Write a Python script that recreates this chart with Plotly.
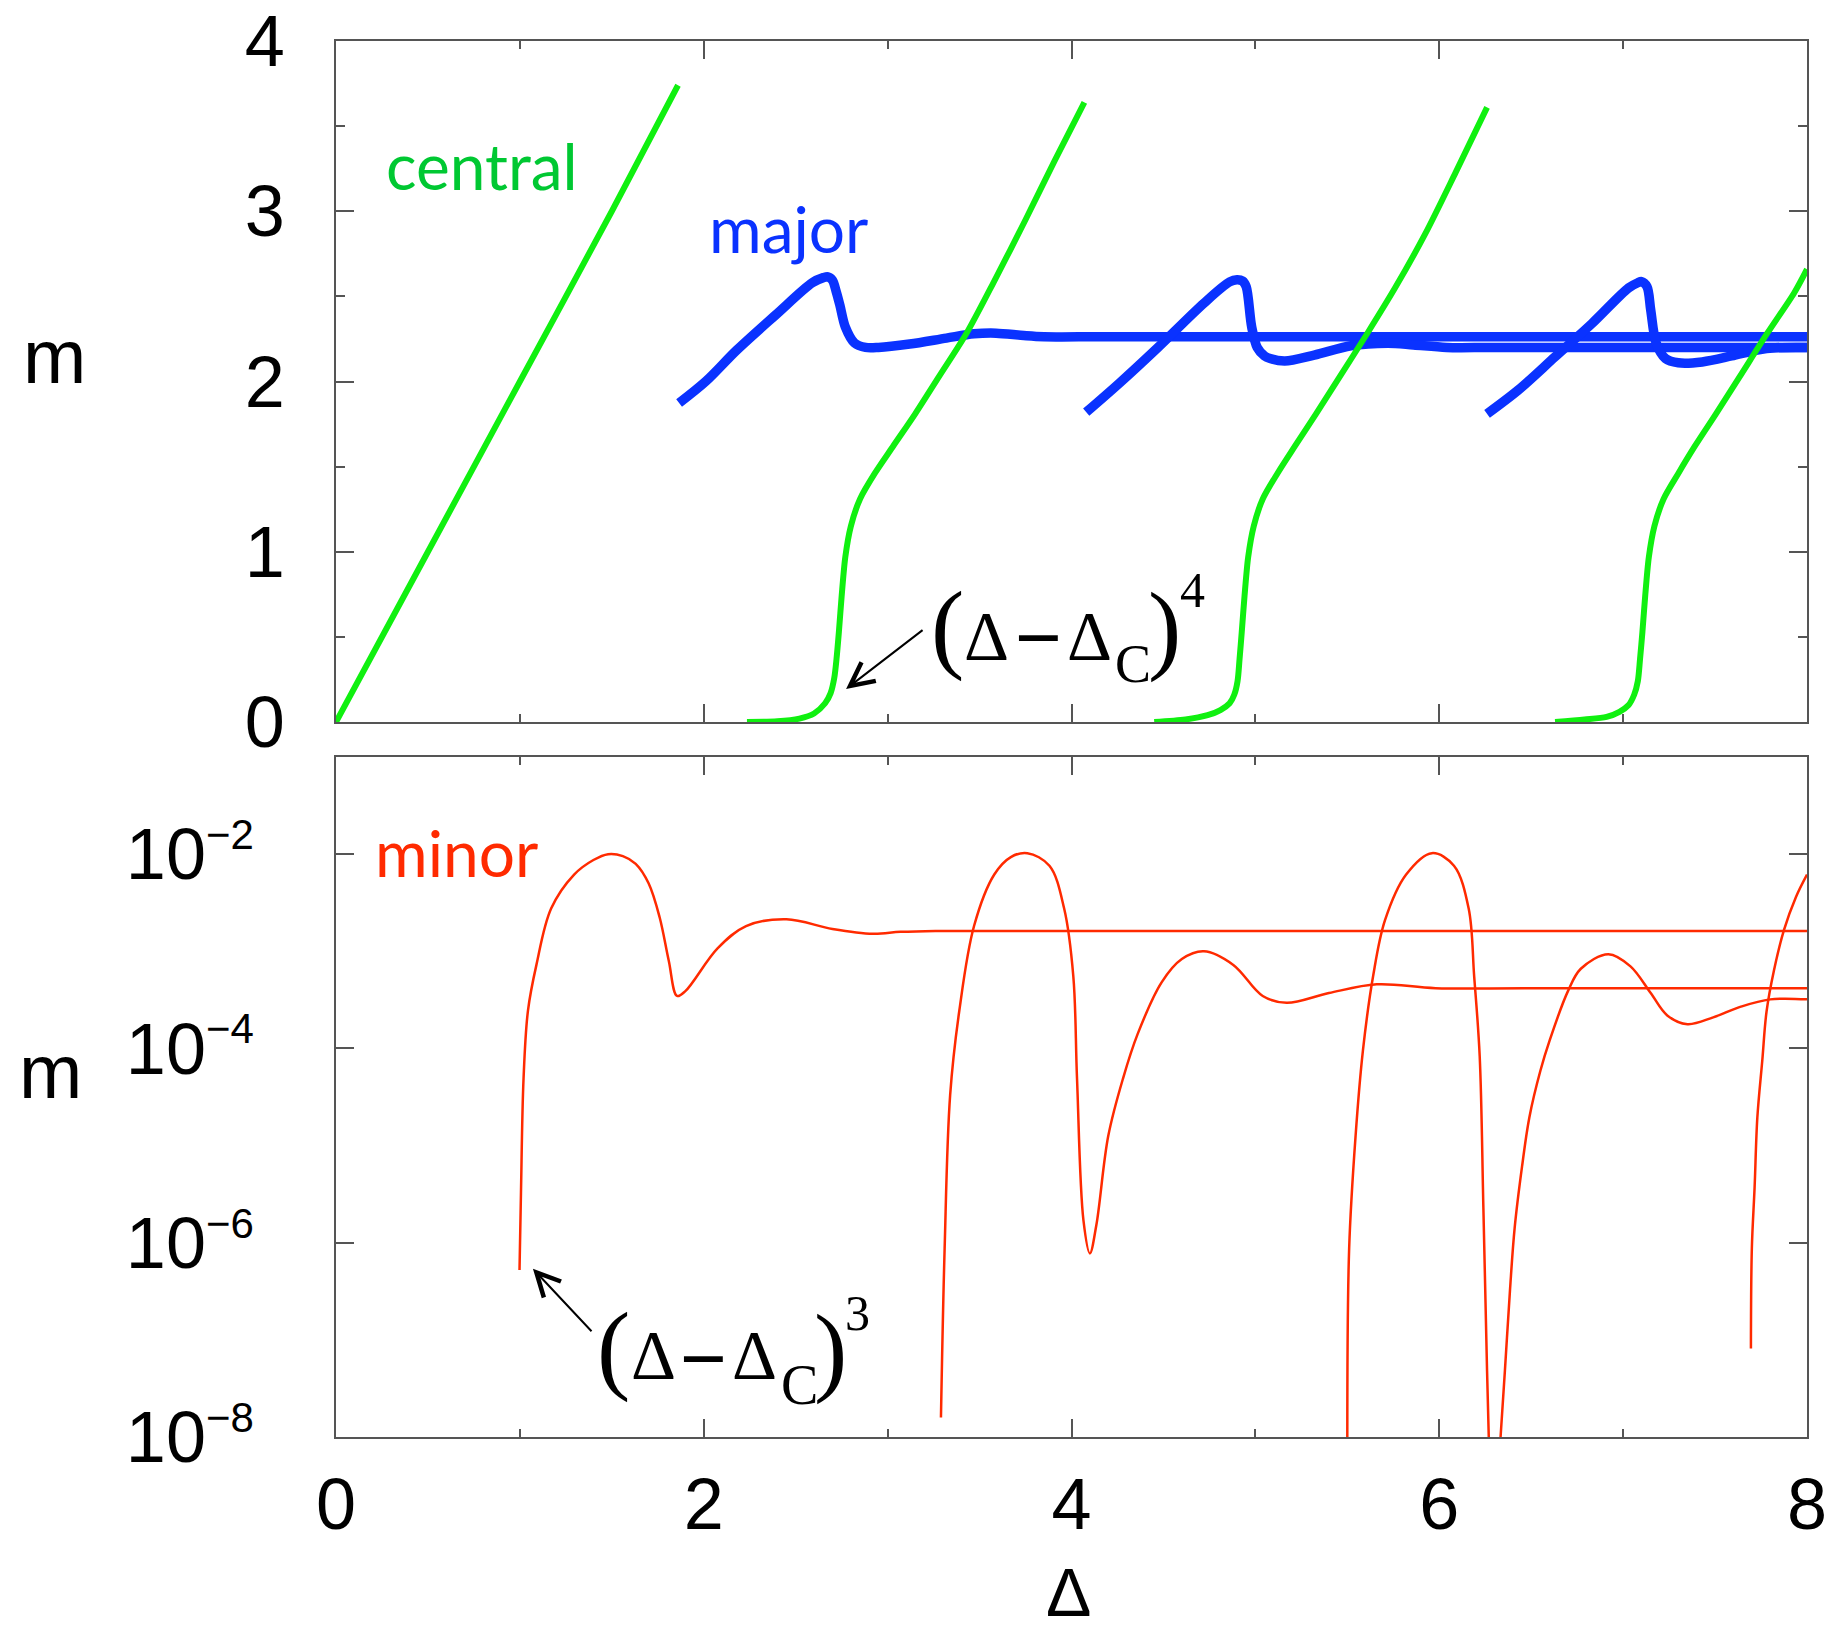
import plotly.graph_objects as go

# ---------------- data ----------------
# top panel: "central" magnetisation (green)
central_1_delta = [0.0, 0.5, 1.0, 1.5, 1.86]
central_1_m = [0.0, 1.0, 2.0, 3.0, 3.74]

central_2_delta = [2.235, 2.40, 2.52, 2.60, 2.66, 2.69, 2.71, 2.722, 2.735, 2.75, 2.77, 2.80,
                   2.85, 2.93, 3.03, 3.15, 3.28, 3.43, 3.58, 3.75, 3.91, 4.07]
central_2_m = [0.0, 0.004, 0.02, 0.05, 0.11, 0.17, 0.26, 0.37, 0.53, 0.74, 0.97, 1.15,
               1.31, 1.46, 1.62, 1.81, 2.03, 2.285, 2.59, 2.95, 3.30, 3.64]

central_3_delta = [4.45, 4.62, 4.74, 4.81, 4.86, 4.885, 4.903, 4.914, 4.926, 4.941, 4.961, 4.991,
                   5.04, 5.12, 5.215, 5.33, 5.46, 5.61, 5.76, 5.925, 6.09, 6.26]
central_3_m = [0.0, 0.015, 0.04, 0.07, 0.11, 0.16, 0.24, 0.37, 0.53, 0.74, 0.97, 1.15,
               1.31, 1.46, 1.62, 1.81, 2.03, 2.285, 2.55, 2.87, 3.23, 3.61]

central_4_delta = [6.63, 6.79, 6.91, 6.98, 7.03, 7.06, 7.08, 7.092, 7.105, 7.12, 7.14, 7.17,
                   7.22, 7.30, 7.39, 7.505, 7.635, 7.785, 7.93, 8.0]
central_4_m = [0.0, 0.015, 0.03, 0.06, 0.10, 0.16, 0.24, 0.37, 0.53, 0.74, 0.97, 1.15,
               1.31, 1.46, 1.62, 1.81, 2.03, 2.285, 2.52, 2.66]

# top panel: "major" magnetisation (blue)
major_1_delta = [1.866, 2.01, 2.18, 2.39, 2.59, 2.65, 2.675, 2.70, 2.72, 2.74, 2.77, 2.82, 2.88,
                 2.95, 3.12, 3.32, 3.47, 3.59, 3.74, 3.85, 4.2, 8.0]
major_1_m = [1.874, 2.0, 2.185, 2.39, 2.58, 2.61, 2.615, 2.595, 2.53, 2.45, 2.32, 2.226, 2.20,
             2.20, 2.22, 2.255, 2.28, 2.284, 2.27, 2.263, 2.263, 2.263]

major_2_delta = [4.08, 4.26, 4.47, 4.72, 4.86, 4.90, 4.93, 4.95, 4.98, 5.01, 5.05, 5.08, 5.16,
                 5.32, 5.52, 5.72, 5.86, 6.04, 6.3, 8.0]
major_2_m = [1.82, 1.99, 2.20, 2.46, 2.585, 2.597, 2.59, 2.557, 2.32, 2.20, 2.15, 2.135, 2.12,
             2.155, 2.21, 2.225, 2.215, 2.20, 2.20, 2.20]

major_3_delta = [6.26, 6.43, 6.63, 6.83, 7.03, 7.08, 7.10, 7.13, 7.15, 7.18, 7.23, 7.30, 7.43,
                 7.59, 7.73, 7.83, 8.0]
major_3_m = [1.81, 1.95, 2.145, 2.34, 2.55, 2.58, 2.587, 2.557, 2.42, 2.225, 2.135, 2.11, 2.115,
             2.15, 2.185, 2.198, 2.20]

# bottom panel: "minor" magnetisation (red), given as log10(m)
minor_1_delta = [0.998, 1.006, 1.02, 1.044, 1.09, 1.17, 1.295, 1.40, 1.48, 1.56, 1.63, 1.70,
                 1.76, 1.81, 1.855, 1.90, 2.075, 2.23, 2.45, 2.70, 2.92, 3.07, 3.26, 8.0]
minor_1_log10m = [-6.28, -5.48, -4.31, -3.61, -3.14, -2.56, -2.21, -2.06, -2.00, -2.02, -2.10,
                  -2.30, -2.65, -3.10, -3.46, -3.41, -2.97, -2.74, -2.67, -2.77, -2.82, -2.80,
                  -2.79, -2.79]

minor_2_delta = [3.29, 3.31, 3.34, 3.39, 3.47, 3.58, 3.67, 3.76, 3.88, 3.96, 4.01, 4.03, 4.065,
                 4.10, 4.135, 4.20, 4.28, 4.36, 4.49, 4.60, 4.72, 4.88, 5.04, 5.17, 5.40, 5.66,
                 5.98, 6.47, 8.0]
minor_2_log10m = [-7.8, -6.06, -4.48, -3.61, -2.74, -2.21, -2.03, -1.99, -2.12, -2.56, -3.26,
                  -4.31, -5.77, -6.11, -5.82, -4.90, -4.31, -3.85, -3.32, -3.08, -3.0, -3.14,
                  -3.46, -3.53, -3.43, -3.34, -3.38, -3.381, -3.381]

minor_3_delta = [5.50, 5.51, 5.545, 5.585, 5.64, 5.705, 5.82, 5.96, 6.08, 6.16, 6.19, 6.22,
                 6.24, 6.26, 6.27]
minor_3_log10m = [-8.05, -6.06, -4.90, -4.02, -3.26, -2.68, -2.21, -1.99, -2.12, -2.56, -3.26,
                  -4.08, -5.64, -7.32, -8.05]

minor_4_delta = [6.33, 6.357, 6.385, 6.41, 6.45, 6.49, 6.55, 6.60, 6.70, 6.77, 6.92, 7.04, 7.15,
                 7.24, 7.35, 7.49, 7.64, 7.80, 8.0]
minor_4_log10m = [-8.1, -7.32, -6.48, -5.85, -5.22, -4.71, -4.23, -3.92, -3.41, -3.18, -3.03,
                  -3.155, -3.43, -3.66, -3.75, -3.68, -3.57, -3.495, -3.495]

minor_5_delta = [7.695, 7.70, 7.715, 7.73, 7.757, 7.78, 7.82, 7.875, 7.94, 8.0]
minor_5_log10m = [-7.09, -6.06, -5.43, -4.71, -4.12, -3.62, -3.20, -2.78, -2.44, -2.21]

x_tick_vals = [0, 2, 4, 6, 8]
y_top_tick_vals = [0, 1, 2, 3, 4]
y_bot_tick_vals = [1e-8, 1e-6, 1e-4, 1e-2]
y_bot_exponents = ["\u22128", "\u22126", "\u22124", "\u22122"]

# ---------------- styling ----------------
GREEN = "#10F010"
GREEN_TXT = "#00C832"
BLUE = "#0A32FF"
RED = "#FF2A00"
AX = "#555555"
SANS = "Liberation Sans, Arial, Helvetica, sans-serif"
SERIF = "Liberation Serif, Times New Roman, serif"
LABEL_FONT = "Lato, Open Sans, sans-serif"

OFF = 8                      # default body margin of the html page
W, H = 1834 - OFF, 1627 - OFF
PLOT_L, PLOT_R, PLOT_T, PLOT_B = 336, 1807, 41, 1437   # plot frame in screen pixels
PW, PH = PLOT_R - PLOT_L, PLOT_B - PLOT_T


def px(xs):
    return (xs - PLOT_L) / PW


def py(ys):
    return (PLOT_B - ys) / PH


fig = go.Figure()

for d, m in [(major_1_delta, major_1_m), (major_2_delta, major_2_m), (major_3_delta, major_3_m)]:
    fig.add_trace(go.Scatter(x=d, y=m, mode="lines", xaxis="x", yaxis="y",
                             line=dict(color=BLUE, width=9.5, shape="spline", smoothing=0.9),
                             showlegend=False, hoverinfo="skip"))

for d, m in [(central_1_delta, central_1_m), (central_2_delta, central_2_m),
             (central_3_delta, central_3_m), (central_4_delta, central_4_m)]:
    fig.add_trace(go.Scatter(x=d, y=m, mode="lines", xaxis="x", yaxis="y",
                             line=dict(color=GREEN, width=6, shape="spline", smoothing=0.8),
                             showlegend=False, hoverinfo="skip"))

for d, lm in [(minor_1_delta, minor_1_log10m), (minor_2_delta, minor_2_log10m),
              (minor_3_delta, minor_3_log10m), (minor_4_delta, minor_4_log10m),
              (minor_5_delta, minor_5_log10m)]:
    fig.add_trace(go.Scatter(x=d, y=[10 ** v for v in lm], mode="lines", xaxis="x2", yaxis="y2",
                             line=dict(color=RED, width=2.5, shape="spline", smoothing=1.0),
                             showlegend=False, hoverinfo="skip"))

axis_common = dict(showline=True, linecolor=AX, linewidth=1.5, mirror="allticks",
                   ticks="inside", tickcolor=AX, tickwidth=1.5, ticklen=18,
                   showgrid=False, zeroline=False, ticklabeloverflow="allow",
                   tickfont=dict(family=SANS, size=72, color="black"))
minor_x = dict(ticks="inside", tickmode="linear", tick0=0, dtick=1, ticklen=8,
               tickcolor=AX, tickwidth=1.5, showgrid=False)

fig.update_layout(
    width=W, height=H,
    margin=dict(l=PLOT_L - OFF, r=W - (PLOT_R - OFF), t=PLOT_T - OFF, b=H - (PLOT_B - OFF),
                autoexpand=False),
    paper_bgcolor="white", plot_bgcolor="white",
    xaxis=dict(axis_common, domain=[0, 1], range=[0, 8], anchor="y",
               tickmode="array", tickvals=x_tick_vals, showticklabels=False, minor=minor_x),
    yaxis=dict(axis_common, domain=[py(722), py(41)], range=[0, 4], anchor="x",
               tickmode="array", tickvals=y_top_tick_vals, ticklabelstandoff=35,
               minor=dict(ticks="inside", tickmode="linear", tick0=0, dtick=0.5, ticklen=9,
                          tickcolor=AX, tickwidth=1.5, showgrid=False)),
    xaxis2=dict(axis_common, domain=[0, 1], range=[0, 8], anchor="y2",
                tickmode="array", tickvals=x_tick_vals, ticklabelstandoff=4, minor=minor_x),
    yaxis2=dict(axis_common, domain=[py(1437), py(757)], type="log", range=[-8, -1],
                anchor="x2", tickmode="array", tickvals=y_bot_tick_vals,
                ticktext=["10<sup><span style='font-size:42px'>%s</span></sup>" % e
                          for e in y_bot_exponents],
                ticklabelstandoff=66),
)


def glyph(text, cx, cy, size, family, color="black", xanchor="center"):
    return dict(text=text, x=px(cx), y=py(cy), xref="paper", yref="paper",
                xanchor=xanchor, yanchor="middle", showarrow=False,
                font=dict(family=family, size=size, color=color))


DASH = "Liberation Sans, Arial"
ann = [
    glyph("central", 384, 165, 64, LABEL_FONT, GREEN_TXT, "left"),
    glyph("major", 707, 229, 64, LABEL_FONT, BLUE, "left"),
    glyph("minor", 373, 852, 64, LABEL_FONT, RED, "left"),
    glyph("m", 54, 356, 76, SANS),
    glyph("m", 50, 1071, 76, SANS),
    glyph("\u0394", 1068, 1592, 68, SANS),
    # (Δ−Δ_C)^4  in the top panel
    glyph("(", 947.5, 626, 100, SERIF),
    glyph("\u0394", 986, 636, 70, SERIF),
    glyph("\u2212", 1038.5, 637, 80, DASH),
    glyph("\u0394", 1089, 636, 70, SERIF),
    glyph("C", 1133, 664, 54, SERIF),
    glyph(")", 1164, 627, 100, SERIF),
    glyph("4", 1192, 590, 50, SERIF),
    # (Δ−Δ_C)^3  in the bottom panel
    glyph("(", 613, 1347, 100, SERIF),
    glyph("\u0394", 653, 1355, 70, SERIF),
    glyph("\u2212", 703, 1358.7, 80, DASH),
    glyph("\u0394", 754, 1355, 70, SERIF),
    glyph("C", 799, 1385, 56, SERIF),
    glyph(")", 830, 1349, 100, SERIF),
    glyph("3", 857, 1313, 50, SERIF),
    # arrows
    dict(x=2.774, y=0.194, xref="x", yref="y", ax=78, ay=-60, text="", showarrow=True,
         arrowhead=5, arrowsize=2.3, arrowwidth=2, arrowcolor="black", standoff=0),
    dict(x=1.071, y=-6.268, xref="x2", yref="y2", ax=60, ay=64, text="", showarrow=True,
         arrowhead=5, arrowsize=2.3, arrowwidth=2, arrowcolor="black", standoff=0),
]
fig.update_layout(annotations=ann)

fig.write_html("out.html")
